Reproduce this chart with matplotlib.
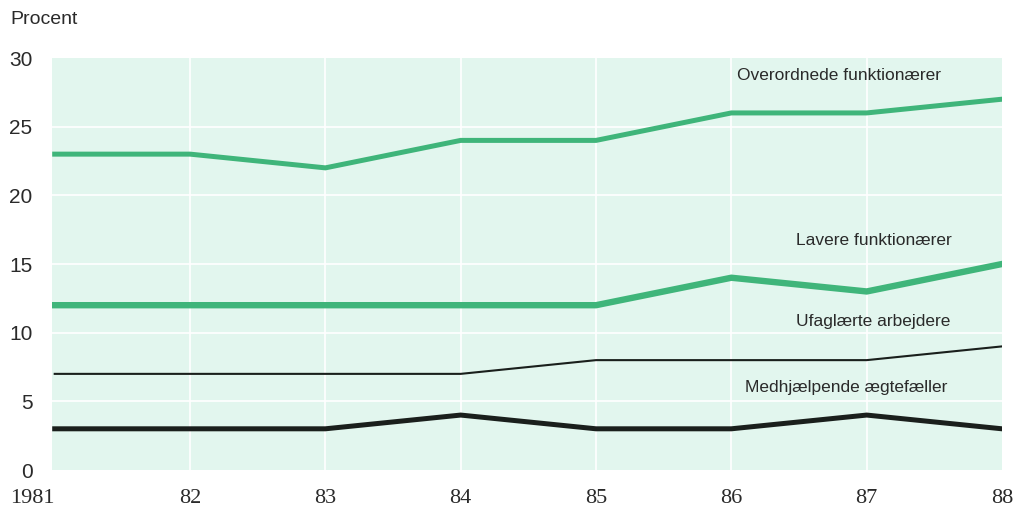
import matplotlib
matplotlib.use("Agg")
import matplotlib.pyplot as plt

years = [1981, 1982, 1983, 1984, 1985, 1986, 1987, 1988]
xtick_labels = ["1981", "82", "83", "84", "85", "86", "87", "88"]
overordnede = [23, 23, 22, 24, 24, 26, 26, 27]
lavere = [12, 12, 12, 12, 12, 14, 13, 15]
ufaglaerte = [7, 7, 7, 7, 8, 8, 8, 9]
medhjaelpende = [3, 3, 3, 4, 3, 3, 4, 3]
yticks = [0, 5, 10, 15, 20, 25, 30]

plt.rcParams['font.family'] = ['Liberation Sans', 'DejaVu Sans']

fig = plt.figure(figsize=(10.13, 5.12), dpi=100)
L, R = 52 / 1013, 1002 / 1013
B, T = 1 - 470 / 512, 1 - 58 / 512
ax = fig.add_axes([L, B, R - L, T - B])

ax.set_facecolor('#e2f6ee')
ax.set_xlim(1980.98, 1988.0)
ax.set_ylim(0, 30)

for y in yticks[1:-1]:
    ax.axhline(y, color='white', lw=1.2, zorder=1)
for x in years[1:-1]:
    ax.axvline(x, color='white', lw=1.2, zorder=1)

green = '#3fb57a'
ax.plot(years, overordnede, color=green, lw=3.6, solid_joinstyle='miter', zorder=3)
ax.plot(years, lavere, color=green, lw=4.6, solid_joinstyle='miter', zorder=3)
ax.plot(years, ufaglaerte, color='#1a1f1c', lw=1.5, zorder=3)
ax.plot(years, medhjaelpende, color='#1a1f1c', lw=3.6, solid_joinstyle='miter', zorder=3)

tc = '#2a2a2a'
fs = 12.5
ax.text(1986.04, 28.7, "Overordnede funktionærer", fontsize=fs, color=tc, va='center', ha='left')
ax.text(1986.48, 16.7, "Lavere funktionærer", fontsize=fs, color=tc, va='center', ha='left')
ax.text(1986.48, 10.8, "Ufaglærte arbejdere", fontsize=fs, color=tc, va='center', ha='left')
ax.text(1986.1, 6.0, "Medhjælpende ægtefæller", fontsize=fs, color=tc, va='center', ha='left')

for s in ax.spines.values():
    s.set_visible(False)

ax.set_yticks(yticks)
ax.set_yticklabels([str(v) for v in yticks], fontsize=15, color=tc)
ax.set_xticks(years)
ax.set_xticklabels(xtick_labels, fontsize=16, color=tc, family=['Liberation Serif'])
ax.tick_params(axis='both', length=0)
ax.tick_params(axis='y', pad=14)
ax.tick_params(axis='x', pad=14)
lbls = ax.get_xticklabels()
lbls[0].set_horizontalalignment('right')

fig.text(10 / 1013, 1 - 20 / 512, "Procent", fontsize=14, color=tc, va='center', ha='left')

fig.savefig("out.png", dpi=100, facecolor='white')
